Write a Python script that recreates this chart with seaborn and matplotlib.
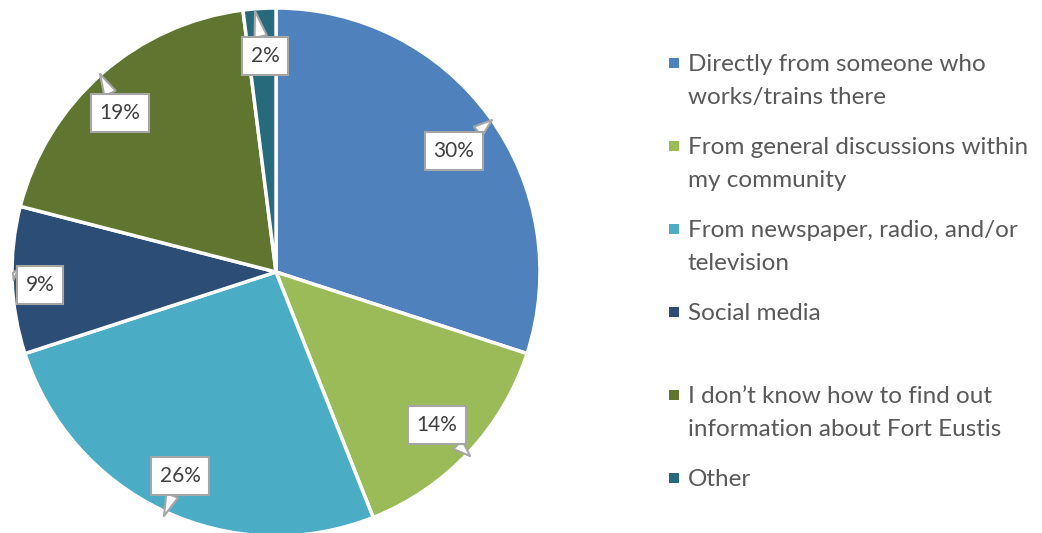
import matplotlib
matplotlib.use("Agg")
import matplotlib.pyplot as plt
import seaborn as sns
from matplotlib.patches import Rectangle

sns.set_theme(style="white")
plt.rcParams['font.family'] = ['Lato', 'DejaVu Sans']

categories = [
    "Directly from someone who\nworks/trains there",
    "From general discussions within\nmy community",
    "From newspaper, radio, and/or\ntelevision",
    "Social media",
    "I don\u2019t know how to find out\ninformation about Fort Eustis",
    "Other",
]
values = [30, 14, 26, 9, 19, 2]
labels = ["30%", "14%", "26%", "9%", "19%", "2%"]
colors = ["#4F81BD", "#9BBB59", "#4BACC6", "#2C4D75", "#5F7530", "#276A7C"]

W, H = 1042, 533
fig = plt.figure(figsize=(W / 100, H / 100), dpi=100)
cx, cy, R = 276, 272, 264
ax = fig.add_axes([(cx - R) / W, (H - cy - R) / H, 2 * R / W, 2 * R / H])
wedges, _ = ax.pie(values, colors=colors, startangle=90, counterclock=False,
                   radius=1.0, wedgeprops=dict(edgecolor="white", linewidth=2.5))
ax.set_xlim(-1, 1)
ax.set_ylim(-1, 1)
ax.set_aspect("equal")
ax.axis("off")

def d(px, py):
    return ((px - cx) / R, (cy - py) / R)

# label box centers and pointer tips (pixel coords)
label_pos = [(454, 151), (437, 425), (180, 476), (40, 285), (120, 113), (265, 56)]
tip_pos = [(492, 120), (470, 456), (164, 516), (13, 273), (100, 74), (255, 11)]
for lab, lp, tp in zip(labels, label_pos, tip_pos):
    ax.annotate(lab, xy=d(*tp), xytext=d(*lp), ha="center", va="center",
                fontsize=15, color="#404040",
                bbox=dict(boxstyle="square,pad=0.42", fc="white", ec="#A6A6A6", lw=1.5),
                arrowprops=dict(arrowstyle="wedge,tail_width=0.6", fc="white",
                                ec="#A6A6A6", lw=1.5, shrinkA=0, shrinkB=0),
                zorder=5)

# legend
for i, (cat, col) in enumerate(zip(categories, colors)):
    y = 63 + 83 * i
    fig.patches.append(Rectangle((669 / W, (H - y - 5) / H), 10 / W, 10 / H,
                                 transform=fig.transFigure, fc=col, ec="none"))
    fig.text(688 / W, (H - y + 9) / H, cat, ha="left", va="top",
             fontsize=17.5, color="#595959", linespacing=1.7)

fig.savefig("out.png", dpi=100)
